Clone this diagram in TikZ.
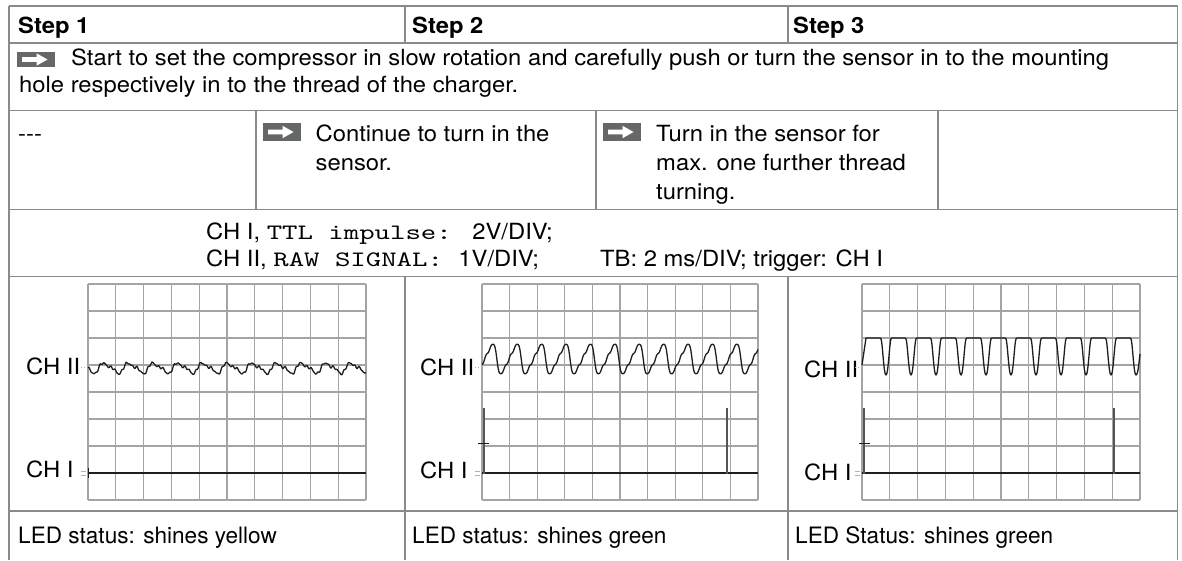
\documentclass[tikz,border=0pt]{standalone}
\usepackage{fontspec}
\setmainfont{TeX Gyre Heros}[FakeStretch=1.067]
\newfontfamily\ledfont{TeX Gyre Heros}
\newfontfamily\monof{lmmono10-regular.otf}[FakeStretch=1.335]
\definecolor{tblgray}{HTML}{8A8A8A}
\definecolor{gridgray}{HTML}{A4A4A4}
\definecolor{icongray}{HTML}{666868}
\definecolor{tracec}{HTML}{1E1E1E}
\definecolor{spikec}{HTML}{555555}
\definecolor{markc}{HTML}{B0B0B0}
\newcommand\mtxt[1]{{\monof\fontsize{22}{22}\selectfont #1}}
\begin{document}
\begin{tikzpicture}[x=1pt,y=-1pt,
  tbl/.style={draw=tblgray, line width=1.8pt},
  gridl/.style={draw=gridgray, line width=1.1pt},
  txt/.style={anchor=base west, inner sep=0pt, font=\fontsize{22.3}{28}\selectfont},
  ledtxt/.style={anchor=base west, inner sep=0pt, font=\ledfont\fontsize{22.6}{28}\selectfont},
  hdr/.style={anchor=base west, inner sep=0pt, font=\fontsize{22.3}{28}\selectfont\bfseries},
  tracel/.style={draw=tracec, line width=1.3pt, line join=round},
  spikel/.style={draw=spikec, line width=2.2pt},
  markl/.style={draw=markc, line width=0.8pt},
  arricon/.style 2 args={rectangle, fill=icongray, inner sep=0pt, minimum width=#1, minimum height=#2,
    path picture={\fill[white] ([xshift=5pt,yshift=2.3pt]path picture bounding box.west) -- ++(14.5pt,0pt) -- ++(0pt,3.9pt) -- ++(11pt,-6.2pt) -- ++(-11pt,-6.2pt) -- ++(0pt,3.9pt) -- ++(-14.5pt,0pt) -- cycle;}}
]
\useasboundingbox (0,0) rectangle (1182,560);

% ---------- grids ----------
\foreach \xo/\w in {88/278, 482/276, 862/278} {
  \foreach \i in {0,...,10} \draw[gridl] ({\xo+\i*\w/10},284) -- ({\xo+\i*\w/10},500);
  \foreach \j in {0,...,8} \draw[gridl] (\xo,{284+\j*27}) -- ({\xo+\w},{284+\j*27});
}

% ---------- table ----------
\draw[tbl] (9,6) -- (1177.5,6);
\foreach \yy in {43.3,110.5,209.5,276.5,511} \draw[tbl] (9,\yy) -- (1177.5,\yy);
\draw[tbl] (9,6) -- (9,560);
\draw[tbl] (1177.5,6) -- (1177.5,560);
\draw[tbl] (405,6) -- (405,43.3);
\draw[tbl] (788,6) -- (788,43.3);
\draw[tbl] (256,110.5) -- (256,209.5);
\draw[tbl] (596,110.5) -- (596,209.5);
\draw[tbl] (938,110.5) -- (938,209.5);
\draw[tbl] (405,276.5) -- (405,560);
\draw[tbl] (788,276.5) -- (788,560);

% ---------- header ----------
\node[hdr] (s1) at (18,33.3) {Step 1};
\node[hdr] (s2) at (412,33.3) {Step 2};
\node[hdr] (s3) at (793,33.3) {Step 3};

% ---------- row 2 ----------
\node[arricon={37.6pt}{15.7pt}] (ic1) at (35.8,59.5) {};
\node[txt] (r2a) at (71,65) {Start to set the compressor in slow rotation and carefully push or turn the sensor in to the mounting};
\node[txt] (r2b) at (19,92.5) {hole respectively in to the thread of the charger.};

% ---------- row 3 ----------
\node[txt] (r3a) at (18,141) {-{}-{}-};
\node[arricon={38pt}{18pt}] (ic2) at (282,132) {};
\node[txt] (r3b) at (315.5,141) {Continue to turn in the};
\node[txt] (r3c) at (315.5,170) {sensor.};
\node[arricon={38pt}{18pt}] (ic3) at (622,132) {};
\node[txt] (r3d) at (656,141) {Turn in the sensor for};
\node[txt] (r3e) at (656,170) {max. one further thread};
\node[txt] (r3f) at (656,199) {turning.};

% ---------- row 4 ----------
\node[txt] (r4a) at (206,239) {CH I, \mtxt{TTL impulse: }2V/DIV;};
\node[txt] (r4b) at (206,266.7) {CH II, \mtxt{RAW SIGNAL: }1V/DIV;};
\node[txt] (r4c) at (600,266.7) {TB: 2 ms/DIV; trigger: CH I};

% ---------- channel labels ----------
\node[txt] (p1c2) at (26,374) {CH II};
\node[txt] (p1c1) at (26,477) {CH I};
\node[txt] (p2c2) at (420,375) {CH II};
\node[txt] (p2c1) at (420,478) {CH I};
\node[txt] (p3c2) at (804,377) {CH II};
\node[txt] (p3c1) at (804,480) {CH I};

% ---------- small markers ----------
\foreach \xo in {88,482,862} {
  \draw[markl] (\xo-7,471) -- (\xo-2,471);
  \draw[markl] (\xo-7,475) -- (\xo-2,475);
  \draw[markl, dotted] (\xo-7,367) -- (\xo-1,367);
}
\draw[tracel, line width=0.9pt] (88,468) -- (88,478);

% ---------- panel 1 traces ----------
\draw[tracel] plot[domain=0:278, samples=420] ({88+\x}, {368 - 4.5*sin(mod(\x,24.7)*14.575 + 200) - 1.8*sin(mod(\x,24.7)*29.15 + 60) - 0.9*sin(mod(\x,5.3)*67.92) - 0.6*sin(mod(\x,3.7)*97.3+20)});
\draw[tracel] (88,473) -- (366,473);

% ---------- panel 2 traces ----------
\draw[tracel] plot[domain=0:276, samples=420] ({482+\x}, {359 - 13.5*(sin(mod(\x,24.4)*14.754 - 39) - 0.32*sin(2*(mod(\x,24.4)*14.754 - 39)) + 0.12*sin(3*(mod(\x,24.4)*14.754 - 39)) + 0.06*sin(5*(mod(\x,24.4)*14.754 - 39)))});
\draw[tracel] (482,473) -- (758,473);
\draw[spikel] (484,474) -- (484,408);
\draw[spikel] (727,474) -- (727,408);
\draw[tracel, line width=0.9pt] (478,443) -- (489,443);

% ---------- panel 3 traces ----------
\draw[tracel] (862,365) -- (866,338)
  \foreach \k in {0,...,9} {
    -- ({886+25*\k-5.5},338) .. controls ({886+25*\k-3.5},338) and ({886+25*\k-2.5},375) .. ({886+25*\k},375)
    .. controls ({886+25*\k+2.5},375) and ({886+25*\k+3.5},338) .. ({886+25*\k+5.5},338)
  }
  -- (1130.5,338) .. controls (1132.5,338) and (1133.5,375) .. (1136,375) .. controls (1138,375) and (1139,362) .. (1140,354);
\draw[tracel] (862,473) -- (1140,473);
\draw[spikel] (864,474) -- (864,408);
\draw[spikel] (1114,474) -- (1114,408);
\draw[tracel, line width=0.9pt] (859,443) -- (870,443);

% ---------- row 6 ----------
\node[ledtxt] (l1) at (18,543) {LED status: shines yellow};
\node[ledtxt] (l2) at (412,543) {LED status: shines green};
\node[ledtxt] (l3) at (795,543) {LED Status: shines green};
\end{tikzpicture}
\end{document}
